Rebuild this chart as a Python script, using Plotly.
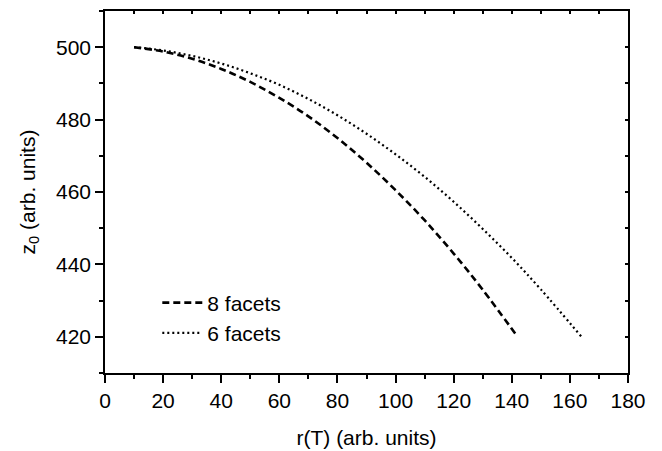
import plotly.graph_objects as go

# data
r_8 = [10, 20, 30, 40, 50, 60, 70, 80, 90, 100, 110, 120, 130, 142]
z_8 = [500.0, 498.8, 496.8, 494.0, 490.4, 486.0, 480.9, 474.9, 468.1, 460.5, 452.2, 443.0, 433.0, 420.0]
r_6 = [10, 20, 30, 40, 50, 60, 70, 80, 90, 100, 110, 120, 130, 140, 150, 164]
z_6 = [500.0, 499.1, 497.6, 495.5, 492.8, 489.6, 485.7, 481.2, 476.1, 470.4, 464.2, 457.3, 449.8, 441.8, 433.1, 420.0]
x_ticks = [0, 20, 40, 60, 80, 100, 120, 140, 160, 180]
y_ticks = [420, 440, 460, 480, 500]

FONT = "Liberation Sans, Arial, sans-serif"
FS = 21

fig = go.Figure()
fig.add_trace(go.Scatter(x=r_8, y=z_8, mode="lines", name="8 facets",
                         line=dict(color="black", width=2.6, dash="7px,4px", shape="spline")))
fig.add_trace(go.Scatter(x=r_6, y=z_6, mode="lines", name="6 facets",
                         line=dict(color="black", width=2.2, dash="2px,3px", shape="spline")))
fig.add_trace(go.Scatter(x=[], y=[], xaxis="x2", yaxis="y2", showlegend=False, hoverinfo="skip"))

fig.update_layout(
    width=654, height=443,
    margin=dict(l=97, r=34, t=3, b=78),
    paper_bgcolor="white", plot_bgcolor="white",
    font=dict(family=FONT, size=FS, color="black"),
    showlegend=True,
    legend=dict(x=0.1, y=0.25, xanchor="left", yanchor="top",
                bgcolor="rgba(0,0,0,0)", font=dict(size=FS, family=FONT, color="black"),
                tracegroupgap=0, itemwidth=40),
    xaxis=dict(range=[0, 180], tickvals=x_ticks, ticks="outside", ticklen=8, tickwidth=1.5,
               tickcolor="black",
               showline=True, linecolor="black", linewidth=1.5, showgrid=False, zeroline=False,
               automargin=False,
               minor=dict(ticks="outside", ticklen=4, dtick=10, tick0=0, tickwidth=1.5,
                          tickcolor="black", showgrid=False),
               title=dict(text="r(T) (arb. units)", standoff=19, font=dict(size=FS, color="black")),
               tickfont=dict(size=FS, color="black")),
    yaxis=dict(range=[410, 510], tickvals=y_ticks, ticks="outside", ticklen=8, tickwidth=1.5,
               tickcolor="black",
               showline=True, linecolor="black", linewidth=1.5, showgrid=False, zeroline=False,
               automargin=False,
               minor=dict(ticks="outside", ticklen=4, dtick=10, tick0=0, tickwidth=1.5,
                          tickcolor="black", showgrid=False),
               title=dict(text="z<sub>0</sub> (arb. units)", standoff=15, font=dict(size=FS, color="black")),
               tickfont=dict(size=FS, color="black")),
    xaxis2=dict(range=[0, 180], overlaying="x", side="top", anchor="y", dtick=10, tick0=0,
                ticks="inside", ticklen=3, tickwidth=1.5, tickcolor="black", showticklabels=False,
                showgrid=False, zeroline=False, showline=True, linecolor="black", linewidth=1.5,
                automargin=False),
    yaxis2=dict(range=[410, 510], overlaying="y", side="right", anchor="x", dtick=10, tick0=0,
                ticks="inside", ticklen=3, tickwidth=1.5, tickcolor="black", showticklabels=False,
                showgrid=False, zeroline=False, showline=True, linecolor="black", linewidth=1.5,
                automargin=False),
)

fig.write_html("out.html")
